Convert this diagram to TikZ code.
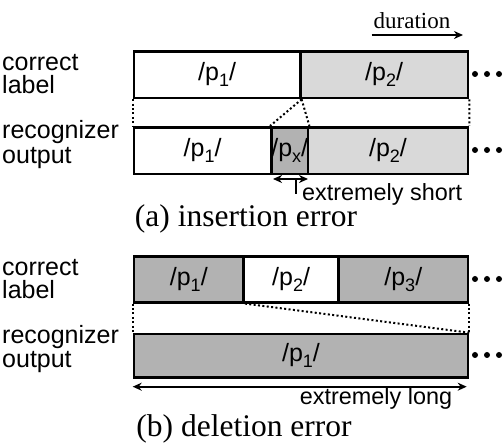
\documentclass[tikz,border=0pt]{standalone}
\usepackage{fontspec}
\setmainfont{Liberation Serif}
\newfontfamily\sansf{Liberation Sans}
\usetikzlibrary{arrows.meta}
\newcommand\subx[1]{\raisebox{-0.22em}{\fontsize{18}{18}\selectfont #1}}
\definecolor{lightg}{gray}{0.85}
\definecolor{darkg}{gray}{0.70}
\begin{document}
\begin{tikzpicture}[x=1pt,y=-1pt,
  seg/.style={draw, line width=2.6pt, inner sep=0pt, anchor=north west,
    font=\sansf\fontsize{25}{25}\selectfont},
  side/.style={anchor=base west, inner sep=0pt, text height=0.72em, text depth=0pt,
    font=\sansf\fontsize{25}{25}\selectfont},
  sidetext/.style={inner sep=0pt, font=\sansf\fontsize{23.4}{24}\selectfont},
  guide/.style={line width=2pt, dash pattern=on 2pt off 2.4pt},
  dot/.style={circle, fill=black, inner sep=0pt, minimum size=6pt},
  arr/.style={line width=1.8pt},
  tip/.style={-{Stealth[length=9pt,width=8pt]}},
  tips/.style={{Stealth[length=9pt,width=8pt]}-{Stealth[length=9pt,width=8pt]}},
  dur/.style={inner sep=0pt, font=\fontsize{23}{23}\selectfont},
  caption/.style={inner sep=0pt, font=\fontsize{31.5}{32}\selectfont}
]
\useasboundingbox (0,0) rectangle (504,443);

% ---------- (a) insertion error ----------
\node[side] (lblA1) at (2,71) {correct};
\node[side] (lblA2) at (2,94) {label};
\node[side, text depth=0.15em] (lblA3) at (2,139) {recognizer};
\node[side, text height=0.7em] (lblA4) at (2,163.5) {output};

\node[dur, anchor=base] (dur) at (412,29) {duration};
\coordinate (durS) at (371.7,35);
\coordinate (durE) at (463,35);
\draw[arr, tip] (durS) -- (durE);

\node[seg, fill=white, minimum width=166.3, minimum height=46.7] (a1) at (132.7,50) {/p\subx{1}/};
\node[seg, fill=lightg, minimum width=167.7, minimum height=46.7] (a2) at (299,50) {/p\subx{2}/};

\node[seg, fill=white, minimum width=137.3, minimum height=46.7] (b1) at (132.7,126) {/p\subx{1}/};
\node[seg, fill=lightg, minimum width=160, minimum height=46.7] (b2) at (306.7,126) {/p\subx{2}/};
\node[seg, fill=darkg, minimum width=36.7, minimum height=46.7] (bx) at (270,126) {/p\subx{x}/};

\draw[guide] (a1.south west) -- (b1.north west);
\draw[guide] (a2.south east) -- (b2.north east);
\draw[guide] (a1.south east) -- (bx.north west);
\draw[guide] (a1.south east) -- (bx.north east);

\node[dot] (da1) at (475,74) {};
\node[dot] (da2) at (487,74) {};
\node[dot] (da3) at (499,74) {};
\node[dot] (db1) at (475,150) {};
\node[dot] (db2) at (487,150) {};
\node[dot] (db3) at (499,150) {};

\coordinate (sL) at (273,179);
\coordinate (sR) at (308,179);
\draw[arr, tips] (sL) -- (sR);
\coordinate (sT) at (296,179);
\coordinate (sB) at (296,194);
\draw[arr] (sT) -- (sB);
\node[sidetext, anchor=base west] (short) at (302,201) {extremely short};

\node[caption, anchor=base] (capA) at (246,227) {(a) insertion error};

% ---------- (b) deletion error ----------
\node[side] (lblB1) at (2,276) {correct};
\node[side] (lblB2) at (2,299) {label};
\node[side, text depth=0.15em] (lblB3) at (2,343.5) {recognizer};
\node[side, text height=0.7em] (lblB4) at (2,368) {output};

\node[seg, fill=darkg, minimum width=109.6, minimum height=46] (c1) at (132.7,255) {/p\subx{1}/};
\node[seg, fill=white, minimum width=95, minimum height=46] (c2) at (242.3,255) {/p\subx{2}/};
\node[seg, fill=darkg, minimum width=129.4, minimum height=46] (c3) at (337.3,255) {/p\subx{3}/};

\node[seg, fill=darkg, minimum width=334, minimum height=43.3] (e1) at (132.7,332.7) {/p\subx{1}/};

\draw[guide] (c1.south west) -- (e1.north west);
\draw[guide] (c3.south east) -- (e1.north east);
\draw[guide] (c1.south east) -- (e1.north east);

\node[dot] (dc1) at (475,279) {};
\node[dot] (dc2) at (487,279) {};
\node[dot] (dc3) at (499,279) {};
\node[dot] (dd1) at (475,355) {};
\node[dot] (dd2) at (487,355) {};
\node[dot] (dd3) at (499,355) {};

\coordinate (lL) at (132.7,386.7);
\coordinate (lR) at (466.7,386.7);
\draw[arr, tips] (lL) -- (lR);
\node[sidetext, anchor=base] (long) at (376,405) {extremely long};

\node[caption, anchor=base] (capB) at (244,437) {(b) deletion error};
\end{tikzpicture}
\end{document}
